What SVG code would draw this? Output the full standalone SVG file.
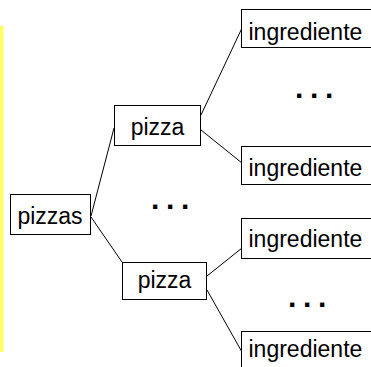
<svg xmlns="http://www.w3.org/2000/svg" width="371" height="367" viewBox="0 0 371 367">
  <style>
    .box { fill: #ffffff; stroke: #000000; stroke-width: 1; }
    .lbl { font-family: "Liberation Sans", Arial, sans-serif; font-size: 23px; fill: #000000; }
    .dots { font-family: "Liberation Sans", Arial, sans-serif; font-size: 30px; font-weight: bold; letter-spacing: 6.7px; fill: #000000; }
    .edge { stroke: #000000; stroke-width: 1; fill: none; }
  </style>
  <rect width="371" height="367" fill="#ffffff"/>
  <!-- margin bar -->
  <rect x="0" y="26" width="3.5" height="326" fill="#ffff66"/>

  <g id="connectors">
    <line class="edge" x1="91" y1="216" x2="114" y2="128"/>
    <line class="edge" x1="91" y1="217" x2="122" y2="262"/>
    <line class="edge" x1="201" y1="115" x2="242" y2="28"/>
    <line class="edge" x1="201" y1="130" x2="242" y2="163"/>
    <line class="edge" x1="207" y1="276" x2="242" y2="248"/>
    <line class="edge" x1="207" y1="290" x2="242" y2="352"/>
  </g>

  <g id="pizzas">
    <rect class="box" x="10.5" y="194.5" width="80" height="40"/>
    <text class="lbl" x="50" y="223.5" text-anchor="middle">pizzas</text>
  </g>
  <g id="pizza-1">
    <rect class="box" x="114.5" y="105.5" width="86" height="40"/>
    <text class="lbl" x="157.5" y="135" text-anchor="middle">pizza</text>
  </g>
  <g id="pizza-2">
    <rect class="box" x="122.5" y="262.5" width="84" height="37"/>
    <text class="lbl" x="164.5" y="287.5" text-anchor="middle">pizza</text>
  </g>
  <g id="ingrediente-1">
    <rect class="box" x="241.5" y="9.5" width="140" height="38"/>
    <text class="lbl" x="248.5" y="39.5">ingrediente</text>
  </g>
  <g id="ingrediente-2">
    <rect class="box" x="241.5" y="146.5" width="140" height="38"/>
    <text class="lbl" x="248.5" y="176">ingrediente</text>
  </g>
  <g id="ingrediente-3">
    <rect class="box" x="241.5" y="218.5" width="140" height="40"/>
    <text class="lbl" x="248.5" y="247">ingrediente</text>
  </g>
  <g id="ingrediente-4">
    <rect class="box" x="241.5" y="331.5" width="140" height="40"/>
    <text class="lbl" x="248.5" y="357">ingrediente</text>
  </g>

  <!-- ellipses between siblings -->
  <text class="dots" x="151" y="209">...</text>
  <text class="dots" x="295" y="98">...</text>
  <text class="dots" x="288" y="306.5">...</text>
</svg>
